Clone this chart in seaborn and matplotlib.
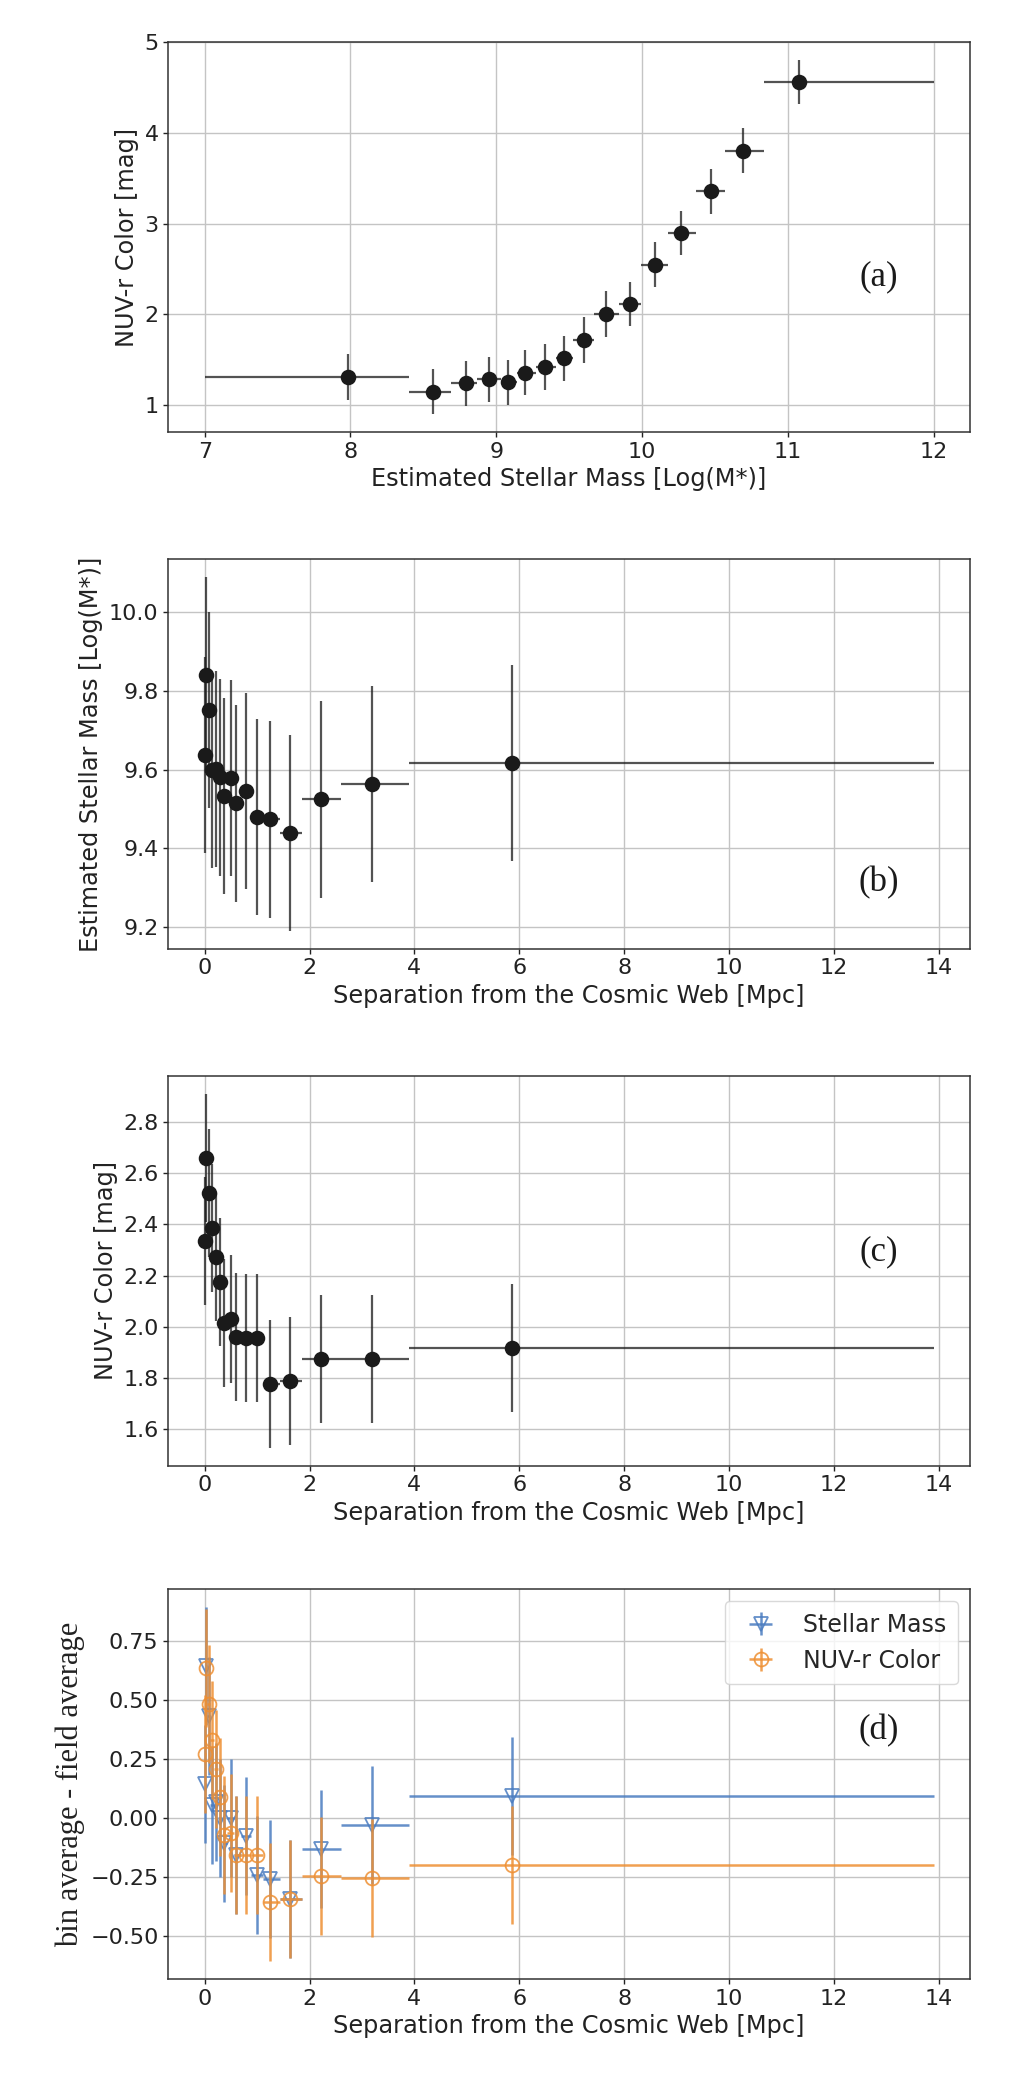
"""
Four stacked panels: colour vs stellar mass, and mass / colour vs
separation from the cosmic web, plus the bin-minus-field offsets.
"""
import numpy as np
import matplotlib
matplotlib.use('Agg')
import matplotlib.pyplot as plt
import seaborn as sns

# ---- panel (a): NUV-r colour in stellar-mass bins
mass = [7.98, 8.565, 8.795, 8.95, 9.08, 9.20, 9.335, 9.466, 9.605, 9.75,
        9.915, 10.09, 10.27, 10.47, 10.69, 11.08]
mass_edges = [7.00, 8.40, 8.69, 8.87, 9.03, 9.14, 9.27, 9.41, 9.53, 9.67,
              9.84, 9.99, 10.18, 10.37, 10.57, 10.84, 12.00]
nuv_mass = [1.31, 1.15, 1.24, 1.285, 1.25, 1.36, 1.42, 1.515, 1.72, 2.005,
            2.115, 2.55, 2.90, 3.355, 3.805, 4.56]
nuv_mass_err = [0.25, 0.25, 0.25, 0.25, 0.25, 0.25, 0.25, 0.25, 0.25, 0.25,
                0.245, 0.25, 0.245, 0.245, 0.245, 0.245]

# ---- panels (b)-(d): bins of separation from the cosmic web [Mpc]
sep = [0.013, 0.032, 0.076, 0.14, 0.217, 0.287, 0.376, 0.497, 0.605, 0.79,
       0.994, 1.242, 1.63, 2.223, 3.19, 5.86]
sep_edges = [0.0, 0.025, 0.05, 0.10, 0.18, 0.25, 0.33, 0.43, 0.55, 0.70,
             0.89, 1.11, 1.43, 1.86, 2.59, 3.89, 13.9]

mass_sep = [9.637, 9.841, 9.752, 9.599, 9.602, 9.580, 9.533, 9.579, 9.514,
            9.546, 9.479, 9.473, 9.439, 9.524, 9.563, 9.616]
mass_sep_err = [0.25] * 16

nuv_sep = [2.334, 2.661, 2.522, 2.387, 2.273, 2.177, 2.017, 2.032, 1.962,
           1.958, 1.958, 1.777, 1.790, 1.874, 1.874, 1.919]
nuv_sep_err = [0.25] * 16

dmass = [0.146, 0.645, 0.433, 0.054, 0.068, 0.001, -0.108, 0.001, -0.157,
         -0.077, -0.240, -0.258, -0.343, -0.130, -0.031, 0.093]
dnuv = [0.273, 0.637, 0.484, 0.330, 0.206, 0.089, -0.072, -0.063, -0.155,
        -0.157, -0.157, -0.357, -0.343, -0.244, -0.254, -0.198]
delta_err = [0.25] * 16

sns.set_theme(style='ticks', rc={'axes.grid': True})
plt.rcParams.update({
    'font.family': ['DejaVu Sans'],
    'grid.color': '#c4c4c4',
    'grid.linewidth': 1.0,
    'axes.edgecolor': '#333333',
    'axes.linewidth': 1.1,
    'xtick.major.size': 3.5,
    'ytick.major.size': 3.5,
    'xtick.major.width': 1.0,
    'ytick.major.width': 1.0,
    'xtick.labelsize': 16,
    'ytick.labelsize': 16,
    'axes.labelsize': 17.3,
    'xtick.color': '#222222',
    'ytick.color': '#222222',
    'axes.labelcolor': '#222222',
})

BLUE = '#4a7cc0'
ORANGE = '#ee8f33'
SERIF = ['Liberation Serif', 'DejaVu Serif']


def bin_xerr(x, edges):
    x = np.asarray(x)
    e = np.asarray(edges)
    return np.vstack([x - e[:-1], e[1:] - x])


def black_panel(ax, x, y, xerr, yerr):
    ax.errorbar(x, y, xerr=xerr, yerr=yerr, fmt='none', ecolor='k',
                elinewidth=1.6, alpha=0.75, zorder=2)
    sns.scatterplot(x=x, y=y, ax=ax, color='k', s=125, edgecolor='k',
                    linewidth=0, zorder=3, legend=False)


fig = plt.figure(figsize=(10.09, 20.99), dpi=100)
left, width, height = 0.1668, 0.7945, 0.1857
ax_a = fig.add_axes([left, 0.7942, width, height])
ax_b = fig.add_axes([left, 0.5480, width, height])
ax_c = fig.add_axes([left, 0.3017, width, height])
ax_d = fig.add_axes([left, 0.0572, width, height])

# (a)
black_panel(ax_a, mass, nuv_mass, bin_xerr(mass, mass_edges), nuv_mass_err)
ax_a.set_xlabel('Estimated Stellar Mass [Log(M*)]')
ax_a.set_ylabel('NUV-r Color [mag]')

sep_xerr = bin_xerr(sep, sep_edges)

# (b)
black_panel(ax_b, sep, mass_sep, sep_xerr, mass_sep_err)
ax_b.set_xlabel('Separation from the Cosmic Web [Mpc]')
ax_b.set_ylabel('Estimated Stellar Mass [Log(M*)]')

# (c)
black_panel(ax_c, sep, nuv_sep, sep_xerr, nuv_sep_err)
ax_c.set_xlabel('Separation from the Cosmic Web [Mpc]')
ax_c.set_ylabel('NUV-r Color [mag]')

# (d)
ax_d.errorbar(sep, dmass, xerr=sep_xerr, yerr=delta_err, fmt='v',
              color=BLUE, mfc='none', mec=BLUE, ms=10, mew=1.3,
              elinewidth=1.8, alpha=0.85, label='Stellar Mass', zorder=2)
ax_d.errorbar(sep, dnuv, xerr=sep_xerr, yerr=delta_err, fmt='o',
              color=ORANGE, mfc='none', mec=ORANGE, ms=10, mew=1.3,
              elinewidth=1.8, alpha=0.85, label='NUV-r Color', zorder=3)
ax_d.set_xlabel('Separation from the Cosmic Web [Mpc]')
ax_d.set_ylabel('bin average - field average', family=SERIF, fontsize=22)
ax_d.legend(loc='upper right', fontsize=17, frameon=True, fancybox=True,
            framealpha=0.8, edgecolor='#d0d0d0', borderpad=0.5)

for ax, tag, ypos in [(ax_a, '(a)', 0.398), (ax_b, '(b)', 0.169),
                      (ax_c, '(c)', 0.55), (ax_d, '(d)', 0.636)]:
    ax.text(0.886, ypos, tag, transform=ax.transAxes, ha='center',
            va='center', fontsize=25, family=SERIF, color='k')
    ax.set_axisbelow(True)

fig.savefig('out.png', dpi=100)
